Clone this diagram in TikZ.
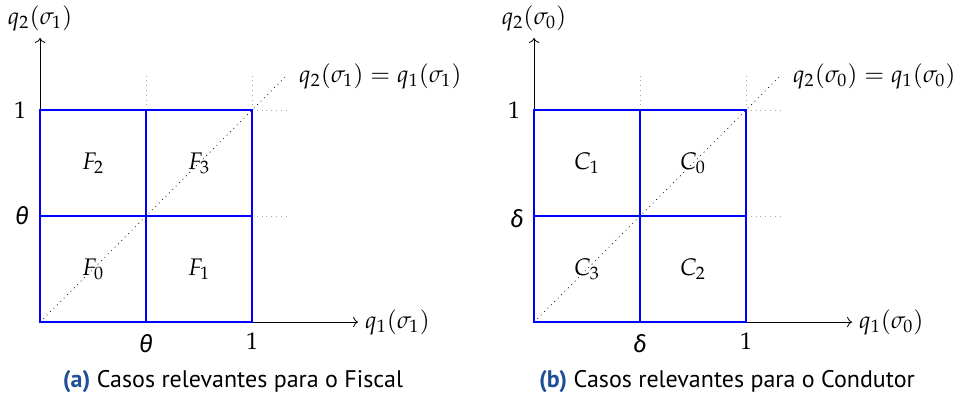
\documentclass[tikz,border=0pt]{standalone}
\usepackage{mathpazo}
\usepackage[no-math]{fontspec}
\setmainfont{PT Sans}
\newfontfamily\grkfont{Fira Sans}
\usetikzlibrary{arrows.meta}
\definecolor{capblue}{HTML}{1F4F96}
\newcommand{\grk}[1]{{\grkfont\itshape #1}}

\begin{document}
\begin{tikzpicture}[
    x=106pt, y=106pt,
    cell/.style={draw=blue, line width=1.2pt},
    guide/.style={draw=gray!70, dotted},
    diag/.style={draw, dotted},
    axis/.style={draw, ->},
    lbl/.style={font=\fontsize{12}{14}\selectfont},
    captext/.style={font=\fontsize{12}{14}\selectfont, anchor=base}
]
\useasboundingbox (-0.189,-0.34) rectangle (4.344,1.519);
% Panel (a): Fiscal
\coordinate (a00) at (0,0);
\coordinate (a11) at (1,1);
\coordinate (am0) at (0.5,0);
\coordinate (am1) at (0.5,1);
\coordinate (a0m) at (0,0.5);
\coordinate (a1m) at (1,0.5);
\coordinate (ax) at (1.5,0);
\coordinate (ay) at (0,1.34);
\coordinate (ad) at (1.16,1.16);
% Axes and guides
\draw[axis] (a00) -- (ax);
\draw[axis] (a00) -- (ay);
\draw[guide] (am1) -- ++(0,0.16);
\draw[guide] (a11) -- ++(0,0.16);
\draw[guide] (a11) -- ++(0.16,0);
\draw[guide] (a1m) -- ++(0.16,0);
\draw[diag] (a00) -- (ad);
% Cells
\draw[cell] (a00) rectangle (a11);
\draw[cell] (am0) -- (am1);
\draw[cell] (a0m) -- (a1m);
% Labels
\node[lbl, anchor=west] (aqx) at (ax) {$q_1(\sigma_1)$};
\node[lbl, anchor=south] (aqy) at (ay) {$q_2(\sigma_1)$};
\node[lbl, anchor=west, xshift=3pt] (aeq) at (ad) {$q_2(\sigma_1) = q_1(\sigma_1)$};
\node[lbl] (ay1) at (-0.094,1) {$1$};
\node[lbl] (aym) at (-0.085,0.5) {\grk{θ}};
\node[lbl] (axm) at (0.5,-0.1) {\grk{θ}};
\node[lbl] (ax1) at (1,-0.09) {$1$};
\node[lbl] (F2) at (0.25,0.75) {$F_2$};
\node[lbl] (F3) at (0.75,0.75) {$F_3$};
\node[lbl] (F0) at (0.25,0.25) {$F_0$};
\node[lbl] (F1) at (0.75,0.25) {$F_1$};
\node[captext] (capa) at (0.91,-0.307) {\textcolor{capblue}{\bfseries(a)} Casos relevantes para o Fiscal};

\begin{scope}[shift={(2.33,0)}]
% Panel (b): Condutor
\coordinate (b00) at (0,0);
\coordinate (b11) at (1,1);
\coordinate (bm0) at (0.5,0);
\coordinate (bm1) at (0.5,1);
\coordinate (b0m) at (0,0.5);
\coordinate (b1m) at (1,0.5);
\coordinate (bx) at (1.5,0);
\coordinate (by) at (0,1.34);
\coordinate (bd) at (1.16,1.16);
% Axes and guides
\draw[axis] (b00) -- (bx);
\draw[axis] (b00) -- (by);
\draw[guide] (bm1) -- ++(0,0.16);
\draw[guide] (b11) -- ++(0,0.16);
\draw[guide] (b11) -- ++(0.16,0);
\draw[guide] (b1m) -- ++(0.16,0);
\draw[diag] (b00) -- (bd);
% Cells
\draw[cell] (b00) rectangle (b11);
\draw[cell] (bm0) -- (bm1);
\draw[cell] (b0m) -- (b1m);
% Labels
\node[lbl, anchor=west] (bqx) at (bx) {$q_1(\sigma_0)$};
\node[lbl, anchor=south] (bqy) at (by) {$q_2(\sigma_0)$};
\node[lbl, anchor=west, xshift=3pt] (beq) at (bd) {$q_2(\sigma_0) = q_1(\sigma_0)$};
\node[lbl] (by1) at (-0.094,1) {$1$};
\node[lbl] (bym) at (-0.08,0.49) {\grk{δ}};
\node[lbl] (bxm) at (0.5,-0.1) {\grk{δ}};
\node[lbl] (bx1) at (1,-0.09) {$1$};
\node[lbl] (C1) at (0.25,0.75) {$C_1$};
\node[lbl] (C0) at (0.75,0.75) {$C_0$};
\node[lbl] (C3) at (0.25,0.25) {$C_3$};
\node[lbl] (C2) at (0.75,0.25) {$C_2$};
\node[captext] (capb) at (0.91,-0.307) {\textcolor{capblue}{\bfseries(b)} Casos relevantes para o Condutor};
\end{scope}
\end{tikzpicture}
\end{document}
